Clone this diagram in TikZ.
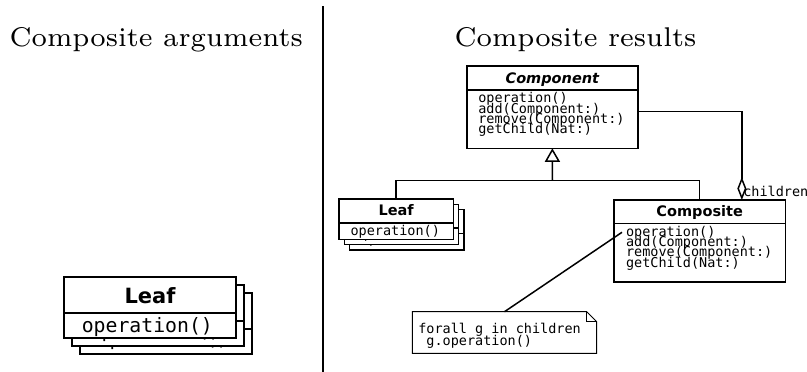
\documentclass[tikz,border=0pt]{standalone}
\usepackage{fontspec}
\newfontfamily\umlsans{DejaVu Sans}
\newfontfamily\umlmono{DejaVu Sans Mono}
\usetikzlibrary{arrows.meta}

% front Leaf card: header with the class name, one compartment with its operation
\newcommand\leafcard[3]{% #1 name, #2 top-left corner, #3 size (sm or lg)
  \node[cardhead/#3] (#1h) at (#2) {};
  \node[cardbody/#3] (#1b) at (#1h.south west) {};
  \node[cardtitle/#3] (#1t) at (#1h.north) {Leaf};
  \node[cardop/#3] (#1o) at (#1b.north west) {operation()};
}
% card further back in the stack: only the bottom of its operation peeks out
\newcommand\leafback[3]{% #1 name, #2 top-left corner, #3 size (sm or lg)
  \node[cardhead/#3] (#1h) at (#2) {};
  \node[cardbody/#3] (#1b) at (#1h.south west) {};
  \node[cardop/#3, backop/#3] (#1o) at (#1b.north west) {operation()};
}

\begin{document}
\begin{tikzpicture}[x=1pt,y=-1pt,
  box/.style={draw, fill=white, outer sep=0pt, inner sep=0pt, anchor=north west},
  txt/.style={inner sep=0pt, outer sep=0pt},
  title/.style={txt, anchor=base west, font=\fontsize{7}{8}\selectfont, scale=3.87, transform shape},
  monosm/.style={font=\umlmono\fontsize{13.5}{10.4}\selectfont},
  headsm/.style={font=\umlsans\bfseries\fontsize{14.5}{16}\selectfont},
  cardhead/sm/.style={box, minimum width=114.3pt, minimum height=23.7pt, line width=1.6pt},
  cardbody/sm/.style={box, minimum width=114.3pt, minimum height=16.6pt, line width=1.6pt},
  cardtitle/sm/.style={txt, headsm, anchor=base, yshift=-16.7pt},
  cardop/sm/.style={txt, monosm, anchor=base west, xshift=11.5pt, yshift=-12.5pt},
  backop/sm/.style={yshift=2.5pt},
  cardhead/lg/.style={box, minimum width=171.4pt, minimum height=36.3pt, line width=2.3pt},
  cardbody/lg/.style={box, minimum width=171.4pt, minimum height=25pt, line width=2.3pt},
  cardtitle/lg/.style={txt, font=\umlsans\bfseries\fontsize{21}{23}\selectfont, anchor=base, yshift=-26.3pt},
  cardop/lg/.style={txt, font=\umlmono\fontsize{19.8}{22}\selectfont, anchor=base west, xshift=17.5pt, yshift=-19.7pt},
  backop/lg/.style={yshift=3.5pt},
  classbox/.style={box, minimum width=171.3pt, line width=1.6pt},
  oprow/.style={txt, monosm, anchor=base west},
  conn/.style={line width=1.5pt, line join=miter},
]
\useasboundingbox (0,0) rectangle (807,372);

% panel titles and separator
\node[title] (ttlargs) at (9.5,46.7) {Composite arguments};
\node[title] (ttlres) at (454.5,46.7) {Composite results};
\coordinate (septop) at (323,6);
\coordinate (sepbot) at (323,372);
\draw[line width=2pt] (septop) -- (sepbot);

% left panel: a stack of Leaf objects
\leafback{bigC}{80.3,292.7}{lg}
\leafback{bigB}{72.3,284.7}{lg}
\leafcard{bigA}{64.3,276.7}{lg}

% right panel: Component class
\node[classbox, minimum height=24pt] (comph) at (466.7,66) {};
\node[classbox, minimum height=58.3pt] (compb) at (comph.south west) {};
\node[txt, font=\umlsans\bfseries\itshape\fontsize{14.5}{16}\selectfont, anchor=base, yshift=-17pt] (compt) at (comph.north) {Component};
\node[oprow, xshift=11.6pt, yshift=-12.7pt] (cop1) at (compb.north west) {operation()};
\node[oprow, xshift=11.6pt, yshift=-23.1pt] (cop2) at (compb.north west) {add(Component:)};
\node[oprow, xshift=11.6pt, yshift=-33.5pt] (cop3) at (compb.north west) {remove(Component:)};
\node[oprow, xshift=11.6pt, yshift=-43.9pt] (cop4) at (compb.north west) {getChild(Nat:)};

% right panel: stack of Leaf objects
\leafback{lfC}{349.6,209.6}{sm}
\leafback{lfB}{344.3,204.3}{sm}
\leafcard{lfA}{339,199}{sm}

% right panel: Composite class
\node[classbox, minimum height=23.3pt] (cmph) at (614,200) {};
\node[classbox, minimum height=58.4pt] (cmpb) at (cmph.south west) {};
\node[txt, headsm, anchor=base, yshift=-16.7pt] (cmpt) at (cmph.north) {Composite};
\node[oprow, xshift=12pt, yshift=-12.7pt] (mop1) at (cmpb.north west) {operation()};
\node[oprow, xshift=12pt, yshift=-23.1pt] (mop2) at (cmpb.north west) {add(Component:)};
\node[oprow, xshift=12pt, yshift=-33.5pt] (mop3) at (cmpb.north west) {remove(Component:)};
\node[oprow, xshift=12pt, yshift=-43.9pt] (mop4) at (cmpb.north west) {getChild(Nat:)};

% generalization: Leaf and Composite specialise Component
\coordinate (bus) at (552.5,180.7);
\draw[conn] (lfAh.north) |- (bus) -| (cmph.north);
\draw[conn, -{Triangle[open, length=13.5pt, width=15pt]}] (bus) -- (compb.south);

% aggregation: a Composite holds its children
\draw[conn, {Diamond[open, length=23pt, width=9pt]}-] ([xshift=42.2pt]cmph.north) |- ([yshift=7.5pt]compb.east);
\node[oprow] (childlbl) at (743.3,196.7) {children};

% note attached to Composite::operation()
\node[txt, minimum width=184.4pt, minimum height=41.6pt] (note) at (504.5,332.5) {};
\draw[line width=1pt, line join=miter] (note.north west) -- ([xshift=-10pt]note.north east)
  -- ([yshift=-10pt]note.north east) -- (note.south east) -- (note.south west) -- cycle;
\draw[line width=0.8pt] ([xshift=-10pt]note.north east) |- ([yshift=-10pt]note.north east);
\node[oprow, xshift=6pt, yshift=-21.6pt] (note1) at (note.north west) {forall g in children};
\node[oprow, xshift=6pt, yshift=-33.3pt] (note2) at (note.north west) {\hphantom{f}g.operation()};
\draw[conn] ([xshift=-4pt]mop1.west) -- (note.north);
\end{tikzpicture}
\end{document}
